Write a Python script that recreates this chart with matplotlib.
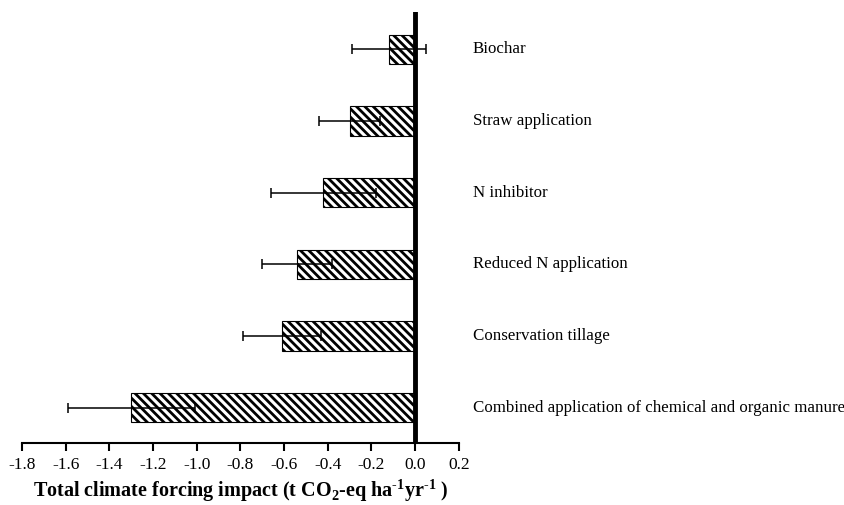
import matplotlib.pyplot as plt
import numpy as np

plt.rcParams['font.family'] = ['Liberation Serif', 'DejaVu Serif']
plt.rcParams['mathtext.fontset'] = 'custom'
plt.rcParams['mathtext.rm'] = 'Liberation Serif'
plt.rcParams['mathtext.bf'] = 'Liberation Serif:bold'
plt.rcParams['hatch.linewidth'] = 2.0

# data (bottom to top)
practices = ["Combined application of chemical and organic manure",
             "Conservation tillage",
             "Reduced N application",
             "N inhibitor",
             "Straw application",
             "Biochar"]
impact = [-1.30, -0.61, -0.54, -0.42, -0.30, -0.12]
err = [0.29, 0.18, 0.16, 0.24, 0.14, 0.17]
xticks = [-1.8, -1.6, -1.4, -1.2, -1.0, -0.8, -0.6, -0.4, -0.2, 0.0, 0.2]

fig = plt.figure(figsize=(8.45, 5.05), dpi=100)
ax = fig.add_axes([0.026, 0.123, 0.517, 0.853])

ypos = np.arange(len(practices))
ax.barh(ypos, impact, height=0.41, color="white", edgecolor="black",
        linewidth=0.8, hatch="\\\\\\\\", zorder=2)
ax.errorbar(impact, ypos, xerr=err, fmt="none", ecolor="black",
            elinewidth=1.1, capsize=3.5, capthick=1.1, zorder=3)

ax.axvline(0, color="black", linewidth=3.5, zorder=4)

for y, lab in zip(ypos, practices):
    ax.text(0.265, y, lab, ha="left", va="center", fontsize=12.2, clip_on=False)

ax.set_xlim(-1.8, 0.2)
ax.set_ylim(-0.49, 5.52)
ax.set_xticks(xticks)
ax.set_xticklabels([f"{t:.1f}" for t in xticks], fontsize=12.5)
ax.set_yticks([])
for s in ["top", "right", "left"]:
    ax.spines[s].set_visible(False)
ax.spines["bottom"].set_linewidth(1.5)
ax.tick_params(axis="x", direction="out", length=6, width=1.5, pad=4)

ax.set_xlabel("Total climate forcing impact (t CO$_\\mathbf{2}$-eq ha$^\\mathbf{\u20101}$yr$^\\mathbf{\u20101}$ )",
              fontsize=14.5, fontweight="bold", labelpad=3)

plt.savefig("out.png", dpi=100)
